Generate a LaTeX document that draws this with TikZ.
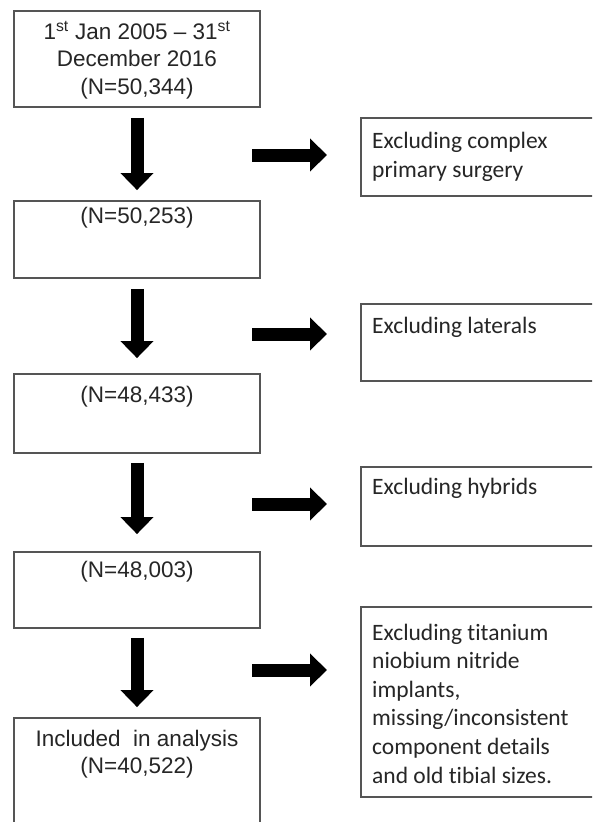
\documentclass[tikz,border=0pt]{standalone}
\usepackage{fontspec}
\setmainfont{Liberation Sans}
\newfontfamily\calib[Ligatures={NoCommon,TeX}]{Carlito}
\usetikzlibrary{arrows.meta}
\definecolor{boxline}{HTML}{555555}
\definecolor{txt}{HTML}{262626}
\begin{document}
\begin{tikzpicture}[x=1pt,y=1pt,
  lbox/.style={draw=boxline, line width=1.8pt, minimum width=246pt, inner sep=0pt},
  rbox/.style={draw=boxline, line width=1.8pt, minimum width=260pt, inner sep=0pt},
  ltext/.style={align=center, text=txt, font=\fontsize{22.5}{27.5}\selectfont, inner sep=0pt},
  rtext/.style={align=left, anchor=west, text=txt, font=\calib\fontsize{23.5}{28.6}\selectfont, inner sep=0pt},
  bigarrow/.style={line width=13pt, -{Triangle[width=32pt,length=17pt]}}]
\useasboundingbox (0,0) rectangle (592,-822);
\fill[white] (0,0) rectangle (592,-822);
\clip (0,0) rectangle (592,-822);
% left boxes
\node[lbox, minimum height=96pt] (L1) at (137,-59) {};
\node[lbox, minimum height=77pt] (L2) at (137,-239.5) {};
\node[lbox, minimum height=79pt] (L3) at (137,-413.5) {};
\node[lbox, minimum height=76pt] (L4) at (137,-590) {};
\node[lbox, minimum height=140pt] (L5) at (137,-788) {};
% right boxes
\node[rbox, minimum height=78pt] (R1) at (491,-157) {};
\node[rbox, minimum height=77pt] (R2) at (491,-342.5) {};
\node[rbox, minimum height=79pt] (R3) at (491,-506.5) {};
\node[rbox, minimum height=190pt] (R4) at (491,-702) {};
% left texts
\node[ltext] (t1) at (137,-60) {1\textsuperscript{st} Jan 2005 -- 31\textsuperscript{st}\\December 2016\\(N=50,344)};
\node[ltext] (t2) at (137,-218) {(N=50,253)};
\node[ltext] (t3) at (137,-397) {(N=48,433)};
\node[ltext] (t4) at (137,-572) {(N=48,003)};
\node[ltext] (t5) at (137,-754) {Included\ \ in analysis\\(N=40,522)};
% right texts
\node[rtext] (s1) at (372,-157) {Excluding complex\\primary surgery};
\node[rtext] (s2) at (372,-327) {Excluding laterals};
\node[rtext] (s3) at (372,-488) {Excluding hybrids};
\node[rtext] (s4) at (372,-703.5) {Excluding titanium\\niobium nitride\\implants,\\missing/inconsistent\\component details\\and old tibial sizes.};
% down arrows
\draw[bigarrow] ([yshift=-10pt]L1.south) -- ([yshift=10pt]L2.north);
\draw[bigarrow] ([yshift=-10pt]L2.south) -- ([yshift=15pt]L3.north);
\draw[bigarrow] ([yshift=-9pt]L3.south) -- ([yshift=17pt]L4.north);
\draw[bigarrow] ([yshift=-9pt]L4.south) -- ([yshift=10pt]L5.north);
% right arrows
\coordinate (b1s) at (252,-155); \coordinate (b1e) at (327,-155);
\coordinate (b2s) at (252,-334); \coordinate (b2e) at (327,-334);
\coordinate (b3s) at (252,-504); \coordinate (b3e) at (327,-504);
\coordinate (b4s) at (252,-670); \coordinate (b4e) at (327,-670);
\draw[bigarrow] (b1s) -- (b1e);
\draw[bigarrow] (b2s) -- (b2e);
\draw[bigarrow] (b3s) -- (b3e);
\draw[bigarrow] (b4s) -- (b4e);
\end{tikzpicture}
\end{document}
